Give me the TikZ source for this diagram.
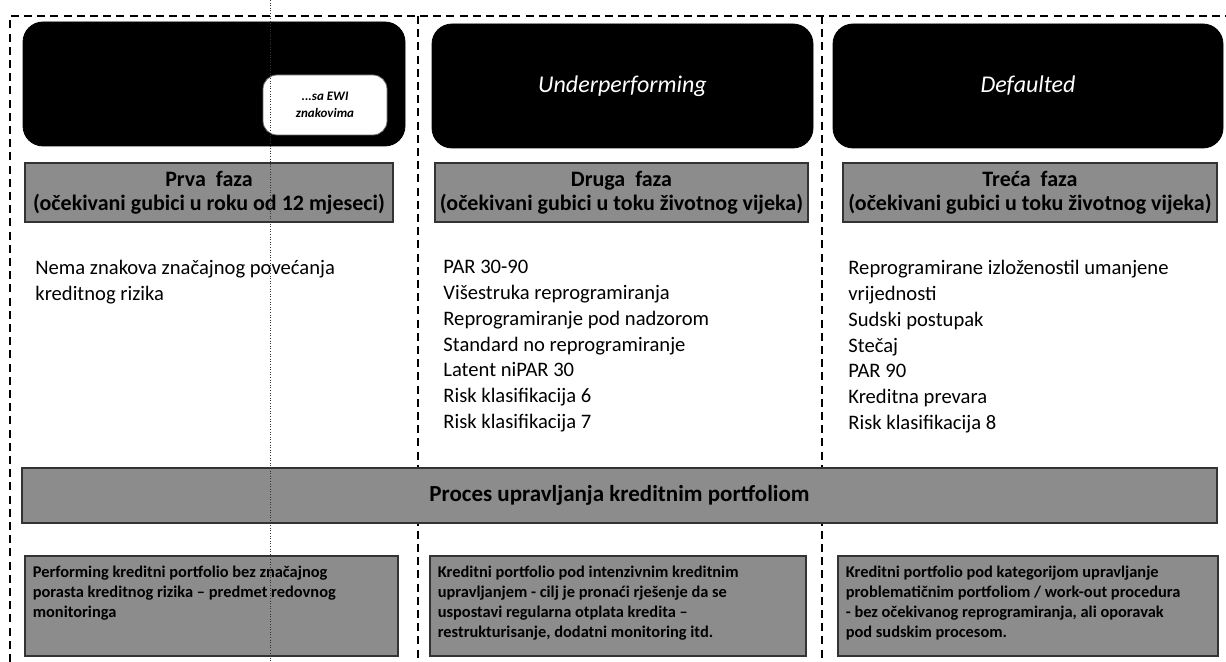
\documentclass[tikz,border=0pt]{standalone}
\usepackage{fontspec}
\setmainfont{Carlito}
\usetikzlibrary{positioning}

\begin{document}
\begin{tikzpicture}[x=0.5pt, y=-0.5pt,
  frame/.style={line width=1.2pt, dash pattern=on 4pt off 2.6pt},
  stagebox/.style={fill=black, draw=black, rounded corners=10pt, minimum height=62pt,
    inner sep=0pt, text=white, font=\fontsize{12}{14}\selectfont\itshape},
  phasebox/.style={fill=black!45, draw=black!80, line width=0.6pt, minimum height=29.5pt,
    inner sep=0pt, align=center, font=\bfseries\fontsize{11}{12}\selectfont},
  listtext/.style={anchor=north west, align=left, inner sep=0pt,
    font=\fontsize{10.3}{12.9}\selectfont},
  mgmtbox/.style={fill=black!45, draw=black!80, line width=0.6pt, minimum height=50pt,
    inner sep=0pt},
  mgmttext/.style={anchor=north west, align=left, inner sep=0pt,
    font=\bfseries\fontsize{8.2}{10}\selectfont}
]
\useasboundingbox (0,0) rectangle (1226,662);

% outer frame and column dividers
\coordinate (TL) at (10,16);
\coordinate (TR) at (1226,16);
\coordinate (BL) at (10,662);
\draw[frame] (BL) -- (TL) -- (TR);
\foreach \x in {418,822}
  \draw[frame] (\x,16) -- (\x,662);

% stages
\node[stagebox, minimum width=191pt] (perf) at (214,84) {};
\node[fill=white, draw=black!60, rounded corners=7pt, minimum width=62pt, minimum height=30pt,
  inner sep=0pt, align=center, font=\bfseries\itshape\fontsize{6.5}{8.5}\selectfont] (ewi) at (325,105)
  {...sa EWI\\znakovima};
\node[stagebox, minimum width=190.5pt] (under) at (622.5,86) {Underperforming};
\node[stagebox, minimum width=195pt] (def) at (1028,86) {Defaulted};

% phases
\node[phasebox, minimum width=184pt] (ph1) at (209,192.5)
  {Prva\ \ faza\\(očekivani gubici u roku od 12 mjeseci)};
\node[phasebox, minimum width=186.5pt] (ph2) at (621.5,192.5)
  {Druga\ \ faza\\(očekivani gubici u toku životnog vijeka)};
\node[phasebox, minimum width=187pt] (ph3) at (1030,192.5)
  {Treća\ \ faza\\(očekivani gubici u toku životnog vijeka)};

% criteria
\node[listtext] (crit1) at (35,260)
  {Nema znakova značajnog povećanja\\kreditnog rizika};
\node[listtext] (crit2) at (443,260)
  {PAR 30-90\\Višestruka reprogramiranja\\Reprogramiranje pod nadzorom\\
   Standard no reprogramiranje\\Latent niPAR 30\\Risk klasifikacija 6\\Risk klasifikacija 7};
\node[listtext] (crit3) at (848,260)
  {Reprogramirane izloženostil umanjene\\vrijednosti\\Sudski postupak\\Stečaj\\
   PAR 90\\Kreditna prevara\\Risk klasifikacija 8};

% portfolio management
\node[phasebox, minimum width=597.5pt, minimum height=27.5pt, font=\bfseries\fontsize{11.5}{12}\selectfont]
  (proc) at (619.5,495.5) {Proces upravljanja kreditnim portfoliom};

\node[mgmtbox, minimum width=186.5pt] (m1) at (211.5,606) {};
\node[mgmtbox, minimum width=188pt] (m2) at (618,606) {};
\node[mgmtbox, minimum width=190pt] (m3) at (1028,606) {};

\node[mgmttext] (m1t) at ([shift={(8,10)}]m1.north west)
  {Performing kreditni portfolio bez značajnog\\porasta kreditnog rizika -- predmet redovnog\\monitoringa};
\node[mgmttext] (m2t) at ([shift={(8,10)}]m2.north west)
  {Kreditni portfolio pod intenzivnim kreditnim\\upravljanjem - cilj je pronaći rješenje da se\\
   uspostavi regularna otplata kredita --\\restrukturisanje, dodatni monitoring itd.};
\node[mgmttext] (m3t) at ([shift={(8,10)}]m3.north west)
  {Kreditni portfolio pod kategorijom upravljanje\\problematičnim portfoliom / work-out procedura\\
   - bez očekivanog reprogramiranja, ali oporavak\\pod sudskim procesom.};

% thin scan line
\draw[black!80, line width=0.3pt, densely dotted] (270,0) -- (270,662);
\end{tikzpicture}
\end{document}
